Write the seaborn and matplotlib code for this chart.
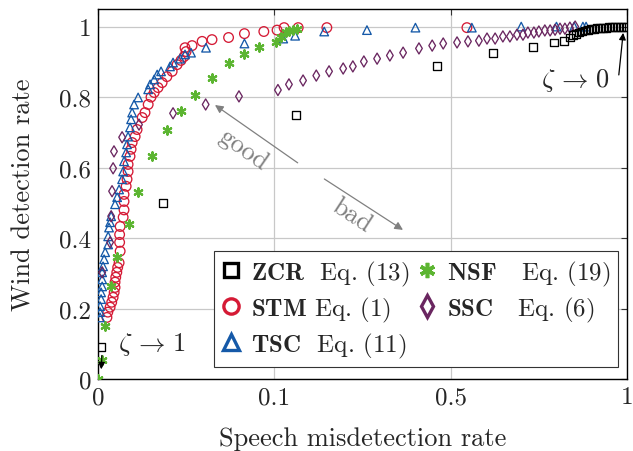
import numpy as np
import matplotlib
matplotlib.use('Agg')
import matplotlib.pyplot as plt
from matplotlib.lines import Line2D
import seaborn as sns

# ZCR Eq. (13)
zcr_x = [0.0017, 0.037, 0.149, 0.469, 0.62, 0.733, 0.793, 0.821,
         0.838, 0.847, 0.855, 0.864, 0.872, 0.881, 0.889, 0.898, 0.906, 0.915,
         0.923, 0.932, 0.94, 0.949, 0.957, 0.966, 0.974, 0.983, 0.991, 1.0]
zcr_y = [0.09, 0.50, 0.748, 0.887, 0.926, 0.943, 0.955, 0.96,
         0.969, 0.975, 0.98, 0.983, 0.986, 0.989, 0.991, 0.993, 0.994, 0.995,
         0.996, 0.997, 0.997, 0.998, 0.998, 0.999, 0.999, 1.0, 1.0, 1.0]

# STM Eq. (1)
stm_x = [0.0050, 0.0055, 0.0068, 0.0077, 0.0085, 0.0091, 0.0096, 0.0096, 0.0100,
         0.0106, 0.0111, 0.0119, 0.0125, 0.0122, 0.0122, 0.0125, 0.0142, 0.0147,
         0.0147, 0.0147, 0.0159, 0.0164, 0.0170, 0.0170, 0.0181, 0.0187, 0.0193,
         0.0210, 0.0221, 0.0250, 0.0266, 0.0284, 0.0300, 0.0318, 0.0340, 0.0363,
         0.0390, 0.0420, 0.0448, 0.0470, 0.0488, 0.0499, 0.0493, 0.0533, 0.0590,
         0.0646, 0.0740, 0.0830, 0.0940, 0.106, 0.122, 0.154, 0.219, 0.546]
stm_y = [0.175, 0.19, 0.204, 0.218, 0.232, 0.246, 0.26, 0.275, 0.289,
         0.303, 0.317, 0.33, 0.363, 0.388, 0.41, 0.433, 0.459, 0.48,
         0.504, 0.524, 0.547, 0.567, 0.589, 0.609, 0.632, 0.652, 0.671,
         0.688, 0.708, 0.742, 0.756, 0.779, 0.80, 0.813, 0.827, 0.841,
         0.858, 0.873, 0.892, 0.904, 0.915, 0.929, 0.94, 0.946, 0.958,
         0.963, 0.969, 0.98, 0.986, 0.99, 0.997, 0.997, 0.997, 0.997]

# TSC Eq. (11)
tsc_x = [0.0011, 0.0011, 0.0011, 0.0017, 0.0017, 0.0023, 0.0023, 0.0023, 0.0028,
         0.0034, 0.0040, 0.0057, 0.0057, 0.0062, 0.0068, 0.0074, 0.0096, 0.0108,
         0.0119, 0.0136, 0.0142, 0.0147, 0.0159, 0.0164, 0.0170, 0.0181, 0.0187,
         0.0193, 0.0204, 0.0227, 0.0284, 0.0295, 0.0318, 0.0335, 0.0357, 0.0408,
         0.0425, 0.0465, 0.0493, 0.0527, 0.0612, 0.083, 0.120, 0.147, 0.213,
         0.31, 0.42, 0.56, 0.70, 0.80, 0.85, 0.875, 0.884]
tsc_y = [0.175, 0.19, 0.207, 0.227, 0.246, 0.263, 0.283, 0.303, 0.32,
         0.34, 0.36, 0.382, 0.405, 0.43, 0.445, 0.462, 0.496, 0.516,
         0.538, 0.567, 0.589, 0.618, 0.643, 0.666, 0.688, 0.714, 0.737,
         0.756, 0.779, 0.799, 0.822, 0.836, 0.85, 0.864, 0.873, 0.887,
         0.898, 0.909, 0.921, 0.926, 0.94, 0.952, 0.966, 0.974, 0.986,
         0.99, 0.997, 0.997, 1.0, 1.0, 1.0, 1.0, 1.0]

# NSF Eq. (19)
nsf_x = [0.0, 0.0023, 0.004, 0.0074, 0.0108, 0.0176, 0.0227, 0.0306, 0.0391,
         0.047, 0.055, 0.0646, 0.074, 0.083, 0.091, 0.104, 0.115, 0.127,
         0.133, 0.142, 0.151]
nsf_y = [0.0, 0.053, 0.15, 0.263, 0.345, 0.44, 0.532, 0.633, 0.708,
         0.76, 0.805, 0.855, 0.898, 0.923, 0.942, 0.957, 0.971, 0.984,
         0.987, 0.99, 0.994]

# SSC Eq. (6)
ssc_x = [0.0023, 0.0068, 0.0074, 0.0079, 0.0085, 0.009, 0.0136, 0.0232, 0.0425,
         0.061, 0.0799, 0.108, 0.133, 0.165, 0.195, 0.224, 0.256, 0.278,
         0.303, 0.333, 0.362, 0.392, 0.428, 0.458, 0.483, 0.518, 0.549,
         0.58, 0.603, 0.626, 0.648, 0.668, 0.688, 0.705, 0.719, 0.736,
         0.75, 0.767, 0.782, 0.796, 0.81, 0.824, 0.838, 0.853]
ssc_y = [0.303, 0.388, 0.462, 0.533, 0.598, 0.646, 0.686, 0.722, 0.754,
         0.779, 0.802, 0.82, 0.836, 0.847, 0.861, 0.873, 0.881, 0.887,
         0.901, 0.909, 0.918, 0.926, 0.938, 0.946, 0.952, 0.955, 0.958,
         0.96, 0.966, 0.966, 0.972, 0.972, 0.977, 0.977, 0.983, 0.983,
         0.986, 0.989, 0.989, 0.991, 0.994, 0.994, 0.997, 1.0]

x_ticks = [0, 0.1, 0.5, 1]
x_ticklabels = ['0', '0.1', '0.5', '1']
y_ticks = [0, 0.2, 0.4, 0.6, 0.8, 1.0]
y_ticklabels = ['0', '0.2', '0.4', '0.6', '0.8', '1']

sns.set_style('whitegrid')
plt.rcParams['font.family'] = ['cmr10', 'DejaVu Serif']
plt.rcParams['mathtext.fontset'] = 'cm'
plt.rcParams['axes.formatter.use_mathtext'] = True

red = '#d51a35'
blue = '#1559a8'
green = '#5cb531'
purple = '#6a2660'
grey = '#808080'

# piecewise linear axis: 0, 0.1, 0.5, 1 equally spaced
knots = [0, 0.1, 0.5, 1]
knots_u = [0, 1 / 3, 2 / 3, 1]


def fwd(x):
    return np.interp(x, knots, knots_u)


def inv(u):
    return np.interp(u, knots_u, knots)


fig, ax = plt.subplots(figsize=(6.33, 4.52), dpi=100)
fig.subplots_adjust(left=0.155, right=0.9905, bottom=0.159, top=0.978)
ax.set_xscale('function', functions=(fwd, inv))

sns.scatterplot(x=stm_x, y=stm_y, ax=ax, marker='o', s=48, color=red,
                facecolor='none', edgecolor=red, linewidth=0.95, zorder=3)
sns.scatterplot(x=tsc_x, y=tsc_y, ax=ax, marker='^', s=38, color=blue,
                facecolor='none', edgecolor=blue, linewidth=0.95, zorder=3)
sns.scatterplot(x=nsf_x, y=nsf_y, ax=ax, marker=(6, 2, 0), s=36, color=green,
                linewidth=1.6, zorder=3)
sns.scatterplot(x=ssc_x, y=ssc_y, ax=ax, marker='d', s=32, color=purple,
                facecolor='none', edgecolor=purple, linewidth=0.95, zorder=3)
sns.scatterplot(x=zcr_x, y=zcr_y, ax=ax, marker='s', s=32, color='black',
                facecolor='none', edgecolor='black', linewidth=0.95, zorder=3)

ax.set_xlim(0, 1)
ax.set_ylim(0, 1.05)
ax.set_xticks(x_ticks)
ax.set_xticklabels(x_ticklabels)
ax.set_yticks(y_ticks)
ax.set_yticklabels(y_ticklabels)
ax.minorticks_off()
ax.tick_params(direction='in', top=True, right=True, length=4, width=0.8,
               labelsize=18, color='#333333', pad=5)
ax.grid(True, color='#c8c8c8', linewidth=0.9)
for sp in ax.spines.values():
    sp.set_color('black')
    sp.set_linewidth(1.0)

ax.set_xlabel('Speech misdetection rate', fontsize=19, labelpad=13)
ax.set_ylabel('Wind detection rate', fontsize=19, labelpad=17)

# annotations
ax.annotate('', xy=(0.0017, 0.02), xytext=(0.0022, 0.075),
            arrowprops=dict(arrowstyle='-|>', color='black', lw=0.9, mutation_scale=10))
ax.text(0.0113, 0.10, r'$\zeta\, \rightarrow\, 1$', fontsize=19, ha='left', va='center')
ax.annotate('', xy=(0.99, 0.99), xytext=(0.976, 0.855),
            arrowprops=dict(arrowstyle='-|>', color='black', lw=0.9, mutation_scale=10))
ax.text(0.952, 0.85, r'$\zeta\, \rightarrow\, 0$', fontsize=19, ha='right', va='center')

ax.annotate('', xy=(0.065, 0.782), xytext=(0.158, 0.609),
            arrowprops=dict(arrowstyle='-|>', color=grey, lw=0.9, mutation_scale=12))
ax.text(0.0822, 0.652, 'good', fontsize=19, color=grey, rotation=-35,
        ha='center', va='center', rotation_mode='anchor')
ax.annotate('', xy=(0.397, 0.419), xytext=(0.208, 0.572),
            arrowprops=dict(arrowstyle='-|>', color=grey, lw=0.9, mutation_scale=12))
ax.text(0.276, 0.467, 'bad', fontsize=19, color=grey, rotation=-33,
        ha='center', va='center', rotation_mode='anchor')

handles = [
    Line2D([], [], ls='none', marker='s', ms=10, mfc='none', mec='black', mew=2.4),
    Line2D([], [], ls='none', marker='o', ms=11, mfc='none', mec=red, mew=2.4),
    Line2D([], [], ls='none', marker='^', ms=11, mfc='none', mec=blue, mew=2.4),
    Line2D([], [], ls='none', marker=(6, 2, 0), ms=11, color=green, mew=2.6),
    Line2D([], [], ls='none', marker='d', ms=11, mfc='none', mec=purple, mew=2.4),
]
labels = [r'$\mathbf{ZCR}$  Eq. (13)', r'$\mathbf{STM}$ Eq. (1)',
          r'$\mathbf{TSC}$  Eq. (11)', r'$\mathbf{NSF}$   Eq. (19)',
          r'$\mathbf{SSC}$   Eq. (6)']
leg = ax.legend(handles, labels, ncol=2, loc='lower right',
                bbox_to_anchor=(0.983, 0.032), fontsize=18, frameon=True,
                fancybox=False, framealpha=1, edgecolor='#333333',
                handlelength=0.8, handletextpad=0.4, columnspacing=0.3,
                labelspacing=0.28, borderpad=0.3, borderaxespad=0.0)
leg.get_frame().set_linewidth(0.8)

fig.savefig('out.png', dpi=100)
